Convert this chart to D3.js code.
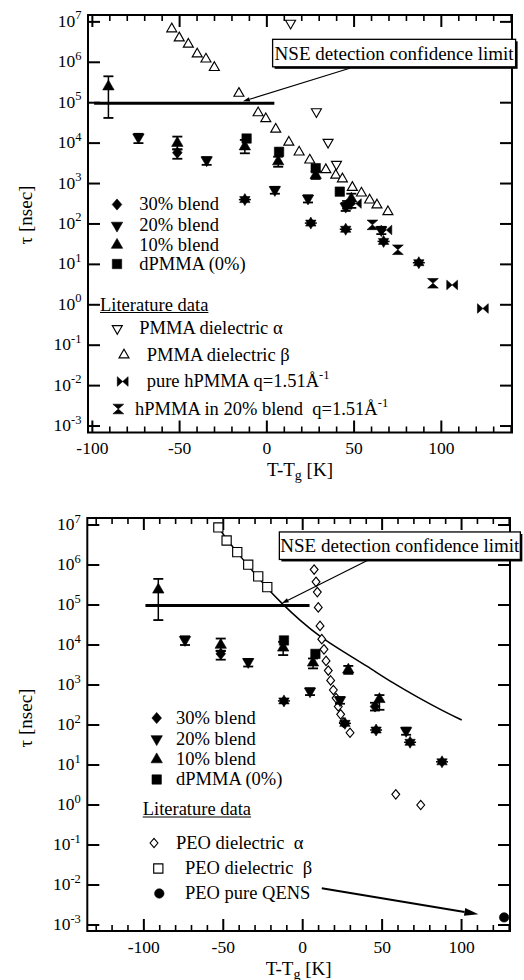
<!DOCTYPE html>
<html><head><meta charset="utf-8">
<script src="https://cdn.jsdelivr.net/npm/d3@7/dist/d3.min.js"></script>
<style>
body{margin:0;background:#fff}
svg{display:block}
text{font-family:"Liberation Serif","Times New Roman",Times,serif;fill:#000;white-space:pre}
</style></head><body>
<svg id="c" width="524" height="980" font-family="Liberation Serif, Times New Roman, serif"></svg>
<script>
// ---------- tick labels ----------
const xTickLabels = [-100, -50, 0, 50, 100];
const yTickExponents = [-3, -2, -1, 0, 1, 2, 3, 4, 5, 6, 7];

// ---------- top panel (PMMA literature) : [T-Tg (K), tau (ns)] ----------
const pmmaDielAlpha = [[13.6,9.3e6],[28.4,6.0e4],[35.1,1.05e4],[39.9,3.0e3]];
const pmmaDielBeta = [[-54.5,6.7e6],[-50.2,4.0e6],[-45.0,2.8e6],[-39.9,1.6e6],[-34.9,1.2e6],[-30.1,7.4e5],
  [-16.0,1.7e5],[-5.0,5.6e4],[-0.6,4.0e4],[5.1,2.2e4],[12.6,1.05e4],[18.5,6.0e3],[24.6,3.8e3],[33.8,2.2e3],
  [39.5,1.6e3],[43.3,1.3e3],[49.0,800],[54.2,580],[58.9,390],[63.1,295],[69.4,200]];
const hpmmaPure = [[51.0,320],[68.5,71],[106.2,3.1],[123.8,0.81]];
const hpmmaIn20 = [[60.5,95],[75.1,23],[95.2,3.4]];
// blends (top panel): [T-Tg, tau, errLow, errHigh]
const top30 = [[-51.3,5.8e3,4.1e3,7.0e3],[46.0,300,240,370]];
const top20 = [[-73.6,1.4e4,1.0e4,1.7e4],[-34.5,3.8e3,2.9e3,4.5e3],[4.6,700,560,830],[23.6,430,340,510],[45.2,270,210,330],[65.6,71,56,85]];
const top10 = [[-90.8,2.5e5,4.2e4,4.5e5],[-51.3,1.0e4,7.0e3,1.45e4],[-12.6,8.2e3,5.6e3,1.2e4],[6.5,3.5e3,2.6e3,4.6e3],[28.0,1.6e3,1.3e3,2.0e3],[48.4,420,250,560]];
const topD0 = [[-11.6,1.3e4],[7.0,6.1e3],[28.0,2.4e3],[41.8,630]];
const topStar = [[-12.6,400],[25.2,105],[45.2,74],[66.9,37],[87.1,11]];

// ---------- bottom panel (PEO literature) ----------
const peoDielAlpha = [[7.2,7.7e5],[8.4,3.8e5],[9.2,2.1e5],[9.8,8.7e4],[10.9,3.0e4],[12.0,1.4e4],[13.4,7.8e3],
  [14.7,4.0e3],[16.1,2.3e3],[17.6,1.3e3],[19.3,750],[21.0,470],[22.4,290],[23.9,185],[25.6,115],[29.8,64],[58.6,1.85],[74.3,1.0]];
const peoDielBeta = [[-53.1,8.7e6],[-47.9,4.1e6],[-41.2,2.1e6],[-34.3,1.02e6],[-28.0,5.2e5],[-22.3,2.8e5]];
const peoQens = [[126.8,1.55e-3]];
const peoFit = [[-55.0,1.1e7],[-53.1,9.1e6],[-47.9,4.3e6],[-41.2,2.1e6],[-34.9,1.0e6],[-28.3,5.1e5],[-22.7,2.7e5],[-13.2,1.1e5],
  [-1.7,4.1e4],[10.9,1.6e4],[25.6,6.8e3],[40.3,3.0e3],[57.1,1.1e3],[71.8,510],[86.5,245],[100.1,133]];
const bot30 = [[-51.6,6.0e3,4.3e3,7.2e3],[45.5,290,230,360]];
const bot20 = [[-74.1,1.35e4,1.0e4,1.65e4],[-34.3,3.8e3,2.9e3,4.5e3],[4.6,700,560,830],[23.5,420,340,500],[65.1,72,57,86]];
const bot10 = [[-90.9,2.4e5,4.2e4,4.5e5],[-51.6,1.0e4,7.0e3,1.45e4],[-12.3,8.5e3,5.6e3,1.2e4],[6.5,3.6e3,2.6e3,4.6e3],[28.7,2.4e3,1.9e3,3.0e3],[48.3,440,240,560]];
const botD0 = [[-11.8,1.3e4],[8.0,6.0e3]];
const botStar = [[-11.8,400],[26.6,110],[46.2,75],[67.6,37],[87.7,12]];

// ---------- annotations (data coordinates) ----------
const nseLimit = [[-99,9.7e4],[4.3,9.7e4]];
const nseText = "NSE detection confidence limit";
const topArrow = [[47.5,7.1e5],[-13.7,1.08e5]];
const topBoxAnchor = [3.3,3.7e6];
const botArrow = [[41.3,1.33e6],[-13.2,1.1e5]];
const botBoxAnchor = [-14.7,6.7e6];
const qensArrow = [[12.0,8.3e-3],[110.6,1.86e-3]];

const blendLabels = ["30% blend","20% blend","10% blend","dPMMA (0%)"];
const topLitLabels = ["PMMA dielectric α","PMMA dielectric β","pure hPMMA q=1.51Å","hPMMA in 20% blend  q=1.51Å"];
const botLitLabels = ["PEO dielectric  α","PEO dielectric  β","PEO pure QENS"];

// ---------- drawing ----------
const svg = d3.select("#c");

function symPath(type){
  switch(type){
    case "up": return "M0,-6.6L5.7,3.3L-5.7,3.3Z";
    case "down": return "M0,6.6L5.7,-3.3L-5.7,-3.3Z";
    case "upO": return "M0,-5.8L5,2.9L-5,2.9Z";
    case "downO": return "M0,5.8L5,-2.9L-5,-2.9Z";
    case "diamond": return "M0,-5.6L4.8,0L0,5.6L-4.8,0Z";
    case "diamondO": return "M0,-4.7L3.9,0L0,4.7L-3.9,0Z";
    case "square": return "M-4.7,-4.7H4.7V4.7H-4.7Z";
    case "squareO": return "M-4.6,-4.6H4.6V4.6H-4.6Z";
    case "bowtie": return "M-5.4,-4.8L0,0L-5.4,4.8ZM5.4,-4.8L0,0L5.4,4.8Z";
    case "hourglass": return "M-5.4,-4.8L5.4,-4.8L0,0ZM-5.4,4.8L5.4,4.8L0,0Z";
    case "star": return "M0,-6L5.2,3L-5.2,3ZM0,6L-5.2,-3L5.2,-3Z";
    case "circle": return d3.symbol(d3.symbolCircle, 70)();
  }
}
const openTypes = {upO:1,downO:1,diamondO:1,squareO:1};
function drawSym(g, type, px, py){
  const o = openTypes[type];
  g.append("path").attr("d", symPath(type)).attr("transform",`translate(${px},${py})`)
    .attr("fill", o ? "#fff" : "#000").attr("stroke","#000")
    .attr("stroke-width", o ? 1.15 : 0.6).attr("stroke-linejoin","miter");
}
function arrow(g, x1, y1, x2, y2, len, wid, sw){
  const a = Math.atan2(y2-y1, x2-x1);
  const bx = x2 - len*Math.cos(a), by = y2 - len*Math.sin(a);
  g.append("line").attr("x1",x1).attr("y1",y1).attr("x2",bx).attr("y2",by).attr("stroke","#000").attr("stroke-width",sw);
  const nx = -Math.sin(a)*wid/2, ny = Math.cos(a)*wid/2;
  g.append("path").attr("d",`M${x2},${y2}L${bx+nx},${by+ny}L${bx-nx},${by-ny}Z`).attr("fill","#000");
}

function panel(o){
  const g = svg.append("g");
  const x = d3.scaleLinear().domain(o.xDom).range(o.xRange);
  const y = d3.scaleLog().domain(o.yDom).range(o.yRange);
  const [xl, xr] = o.xRange, [yb, yt] = o.yRange;
  const axes = g.append("g").attr("stroke","#000");
  d3.range(Math.ceil(o.xDom[0]/10)*10, o.xDom[1]+0.01, 10).forEach(t=>{
    const major = t % 50 === 0, L = major ? 12 : 6;
    axes.append("line").attr("x1",x(t)).attr("x2",x(t)).attr("y1",yb).attr("y2",yb-L).attr("stroke-width",major?2:1.6);
    axes.append("line").attr("x1",x(t)).attr("x2",x(t)).attr("y1",yt).attr("y2",yt+L).attr("stroke-width",major?2:1.6);
  });
  xTickLabels.forEach(t=>{
    g.append("text").attr("x",x(t)).attr("y",yb+21.5).attr("text-anchor","middle").attr("font-size",17.5).text(t);
  });
  yTickExponents.forEach(e=>{
    const v = Math.pow(10,e), py = y(v);
    axes.append("line").attr("x1",xl).attr("x2",xl+12).attr("y1",py).attr("y2",py).attr("stroke-width",2);
    axes.append("line").attr("x1",xr).attr("x2",xr-12).attr("y1",py).attr("y2",py).attr("stroke-width",2);
    const t = g.append("text").attr("x",xl-6.5).attr("y",py+5).attr("text-anchor","end").attr("font-size",17.5);
    t.append("tspan").text("10");
    t.append("tspan").attr("font-size",12.5).attr("dy",-7.5).text(e);
  });
  g.append("rect").attr("x",xl).attr("y",yt).attr("width",xr-xl).attr("height",yb-yt)
    .attr("fill","none").attr("stroke","#000").attr("stroke-width",2);
  const xt = g.append("text").attr("x",(xl+xr)/2).attr("y",yb+43.5).attr("text-anchor","middle").attr("font-size",19);
  xt.append("tspan").text("T-T");
  xt.append("tspan").attr("font-size",14).attr("dy",4).text("g");
  xt.append("tspan").attr("dy",-4).text(" [K]");
  g.append("text").attr("transform",`translate(31.5,${o.yLabelY}) rotate(-90)`).attr("text-anchor","middle")
    .attr("font-size",19).text("τ [nsec]");

  g.append("line").attr("x1",x(nseLimit[0][0])).attr("x2",x(nseLimit[1][0]))
    .attr("y1",y(nseLimit[0][1])).attr("y2",y(nseLimit[1][1])).attr("stroke","#000").attr("stroke-width",3);

  const marks = g.append("g");
  o.draw(marks, x, y);

  function blend(arr, type){
    arr.forEach(d=>{
      const px = x(d[0]);
      marks.append("line").attr("x1",px).attr("x2",px).attr("y1",y(d[2])).attr("y2",y(d[3])).attr("stroke","#000").attr("stroke-width",1.5);
      [d[2],d[3]].forEach(v=>marks.append("line").attr("x1",px-5).attr("x2",px+5).attr("y1",y(v)).attr("y2",y(v)).attr("stroke","#000").attr("stroke-width",1.8));
      drawSym(marks, type, px, y(d[1]));
    });
  }
  blend(o.b30,"diamond"); blend(o.b20,"down"); blend(o.b10,"up");
  o.d0.forEach(d=>drawSym(marks,"square",x(d[0]),y(d[1])));
  o.star.forEach(d=>{
    drawSym(marks,"star",x(d[0]),y(d[1]));
    marks.append("line").attr("x1",x(d[0])-6).attr("x2",x(d[0])+6).attr("y1",y(d[1])).attr("y2",y(d[1])).attr("stroke","#000").attr("stroke-width",1.5);
  });

  const ar = o.arrow;
  arrow(g, x(ar[0][0]), y(ar[0][1]), x(ar[1][0]), y(ar[1][1]), 7, 4.5, 1.2);
  const bx = x(o.box[0]), by = y(o.box[1]), bw = o.boxW, bh = 27.5;
  g.append("rect").attr("x",bx+2).attr("y",by+2).attr("width",bw).attr("height",bh).attr("fill","#000");
  g.append("rect").attr("x",bx).attr("y",by).attr("width",bw).attr("height",bh).attr("fill","#fff").attr("stroke","#000").attr("stroke-width",1.3);
  g.append("text").attr("x",bx+bw/2).attr("y",by+20.5).attr("text-anchor","middle").attr("font-size",19).text(nseText);

  const lg = g.append("g");
  o.legend(lg);
}

function legendRow(g, sym, sx, sy, tx, label, sup){
  drawSym(g, sym, sx, sy);
  const t = g.append("text").attr("x",tx).attr("y",sy+5.5).attr("font-size",18.5).text(label);
  if (sup){ t.append("tspan").attr("font-size",12.5).attr("dy",-8).text(sup); }
  return t;
}
function underlined(g, x0, yb, label){
  const t = g.append("text").attr("x",x0).attr("y",yb).attr("font-size",18.5).text(label);
  const w = t.node().getComputedTextLength();
  g.append("line").attr("x1",x0).attr("x2",x0+w).attr("y1",yb+2).attr("y2",yb+2).attr("stroke","#000").attr("stroke-width",1.2);
}

panel({
  xDom:[-102.5,140.5], xRange:[88,512], yDom:[Math.pow(10,-3.16),Math.pow(10,7.17)], yRange:[432.5,15], yLabelY:215,
  b30:top30, b20:top20, b10:top10, d0:topD0, star:topStar,
  arrow:topArrow, box:topBoxAnchor, boxW:243,
  draw:(g,x,y)=>{
    pmmaDielBeta.forEach(d=>drawSym(g,"upO",x(d[0]),y(d[1])));
    pmmaDielAlpha.forEach(d=>drawSym(g,"downO",x(d[0]),y(d[1])));
    hpmmaPure.forEach(d=>drawSym(g,"bowtie",x(d[0]),y(d[1])));
    hpmmaIn20.forEach(d=>drawSym(g,"hourglass",x(d[0]),y(d[1])));
  },
  legend:(g)=>{
    const syms=["diamond","down","up","square"], ys=[204.5,225.5,245,264];
    blendLabels.forEach((l,i)=>legendRow(g,syms[i],117,ys[i],139.3,l));
    underlined(g,100,310.5,"Literature data");
    legendRow(g,"downO",117.3,328.5,139.3,topLitLabels[0]);
    legendRow(g,"upO",124,355,146.7,topLitLabels[1]);
    legendRow(g,"bowtie",122.7,381.5,146.7,topLitLabels[2],"-1");
    legendRow(g,"hourglass",118.3,409,135,topLitLabels[3],"-1");
  }
});

panel({
  xDom:[-135.6,130.5], xRange:[87.3,510], yDom:[Math.pow(10,-3.15),Math.pow(10,7.175)], yRange:[931,518], yLabelY:718,
  b30:bot30, b20:bot20, b10:bot10, d0:botD0, star:botStar,
  arrow:botArrow, box:botBoxAnchor, boxW:241,
  draw:(g,x,y)=>{
    g.append("path").datum(peoFit).attr("d",d3.line().x(d=>x(d[0])).y(d=>y(d[1])).curve(d3.curveBasis))
      .attr("fill","none").attr("stroke","#000").attr("stroke-width",1.5);
    peoDielBeta.forEach(d=>drawSym(g,"squareO",x(d[0]),y(d[1])));
    peoDielAlpha.forEach(d=>drawSym(g,"diamondO",x(d[0]),y(d[1])));
    peoQens.forEach(d=>drawSym(g,"circle",x(d[0]),y(d[1])));
    arrow(g, x(qensArrow[0][0]), y(qensArrow[0][1]), x(qensArrow[1][0]), y(qensArrow[1][1]), 14, 8, 2);
  },
  legend:(g)=>{
    const syms=["diamond","down","up","square"], ys=[718,739,759.5,779.5];
    blendLabels.forEach((l,i)=>legendRow(g,syms[i],156.7,ys[i],176,l));
    underlined(g,142.7,815,"Literature data");
    legendRow(g,"diamondO",154,843,176,botLitLabels[0]);
    legendRow(g,"squareO",158.3,868.5,185,botLitLabels[1]);
    drawSym(g,"circle",159.3,893.5);
    g.append("text").attr("x",185).attr("y",899).attr("font-size",18.5).text(botLitLabels[2]);
  }
});
</script>
</body></html>
